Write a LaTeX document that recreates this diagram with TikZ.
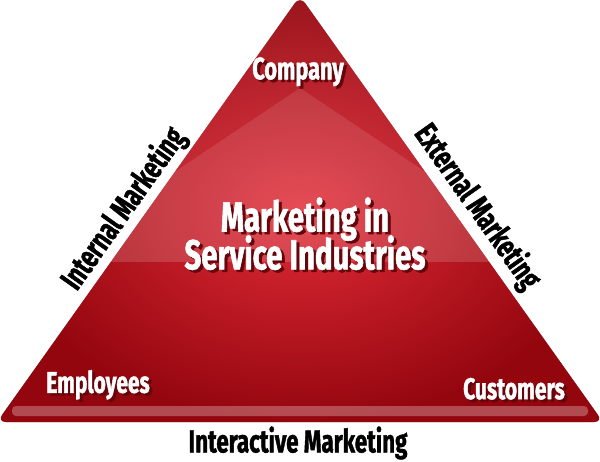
\documentclass[tikz,border=0pt]{standalone}
\usepackage{fontspec}
\setmainfont{Fira Sans}[FakeStretch=0.7, BoldFeatures={FakeBold=1.3}]
\definecolor{triinner}{RGB}{226,44,56}
\definecolor{triouter}{RGB}{148,6,14}
\definecolor{shred}{RGB}{100,6,12}
\definecolor{edgegray}{RGB}{128,128,128}
\newcommand\shtxt[1]{\makebox[0pt][l]{\hspace{3pt}\raisebox{-2.5pt}{\textcolor{shred}{#1}}}#1}
\tikzset{
  intxt/.style={text=white, font=\bfseries\fontsize{#1}{#1}\selectfont, inner sep=0pt},
  outtxt/.style={text=black, font=\bfseries\fontsize{#1}{#1}\selectfont, inner sep=0pt}
}
\begin{document}
\begin{tikzpicture}[x=1pt, y=-1pt]
  \useasboundingbox (0,0) rectangle (600,462);

  \coordinate (top) at (300,-4);
  \coordinate (bl) at (-3,422);
  \coordinate (br) at (603,422);

  \fill[edgegray, rounded corners=9pt, shift={(3,5)}] (top) -- (br) -- (bl) -- cycle;
  \shade[inner color=triinner, outer color=triouter, rounded corners=9pt]
    (top) -- (br) -- (bl) -- cycle;

  \begin{scope}
    \clip[rounded corners=9pt] (top) -- (br) -- (bl) -- cycle;
    \fill[white, opacity=.10] (300,88) -- (40,262) -- (560,262) -- cycle;
    \fill[white, opacity=.06] (0,262) -- (300,-4) -- (600,262) -- cycle;
  \end{scope}
  \fill[white, opacity=.28, rounded corners=4pt] (12,406) rectangle (588,416);

  \node[intxt=31] (comp) at (298,73) {\shtxt{Company}};
  \node[intxt=42, align=center] (main) at (305,235)
    {\shtxt{Marketing in}\\[-9pt]\shtxt{Service Industries}};
  \node[intxt=30] (empl) at (98,386) {\shtxt{Employees}};
  \node[intxt=30] (cust) at (514,390) {\shtxt{Customers}};

  \node[outtxt=32, rotate=54.7] (intm) at (124,209) {Internal Marketing};
  \node[outtxt=32, rotate=-54.7] (extm) at (477,207) {External Marketing};
  \node[outtxt=32] (inter) at (298,443) {Interactive Marketing};
\end{tikzpicture}
\end{document}
